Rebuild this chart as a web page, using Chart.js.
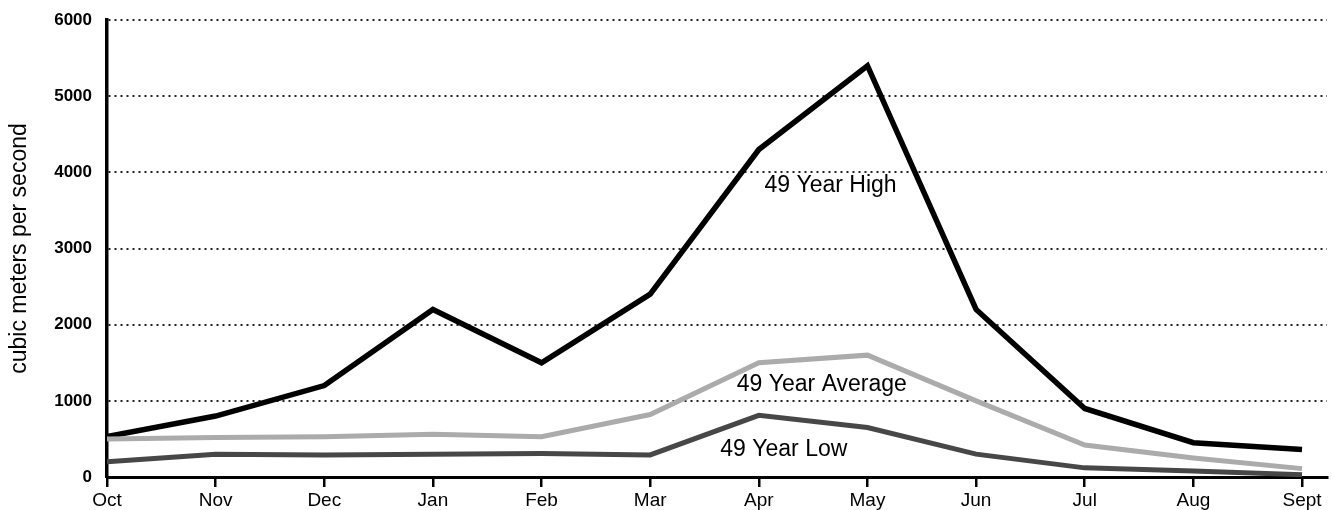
<!DOCTYPE html>
<html>
<head>
<meta charset="utf-8">
<script src="https://cdn.jsdelivr.net/npm/chart.js@4.4.1/dist/chart.umd.min.js"></script>
<style>
  html, body { margin: 0; padding: 0; background: #fff; }
  #wrap { width: 1334px; height: 510px; }
</style>
</head>
<body>
<div id="wrap"><canvas id="flowChart"></canvas></div>
<script>
const months = ['Oct', 'Nov', 'Dec', 'Jan', 'Feb', 'Mar', 'Apr', 'May', 'Jun', 'Jul', 'Aug', 'Sept'];
const highFlow = [530, 800, 1200, 2200, 1500, 2400, 4300, 5400, 2200, 900, 450, 360];
const avgFlow = [500, 520, 530, 560, 530, 820, 1500, 1600, 1000, 420, 250, 110];
const lowFlow = [200, 300, 290, 300, 310, 290, 810, 650, 300, 120, 80, 30];
const yTicks = [0, 1000, 2000, 3000, 4000, 5000, 6000];

// text labels sit at data positions: [text, x index, y value]
const seriesLabels = [
    ['49 Year High', 6.66, 3830],
    ['49 Year Average', 6.58, 1210],
    ['49 Year Low', 6.23, 355]
];

const toPoints = arr => arr.map((v, i) => ({ x: i, y: v }));
const font = 'Liberation Sans, Arial, sans-serif';

const labelPlugin = {
    id: 'seriesLabels',
    afterDatasetsDraw(chart) {
        const { ctx, scales } = chart;
        ctx.save();
        ctx.font = '23px ' + font;
        ctx.fillStyle = '#000';
        ctx.textAlign = 'center';
        ctx.textBaseline = 'middle';
        seriesLabels.forEach(([text, xi, yv]) => {
            ctx.fillText(text, scales.x.getPixelForValue(xi), scales.y.getPixelForValue(yv));
        });
        ctx.restore();
    }
};

const ctx = document.getElementById('flowChart').getContext('2d');
new Chart(ctx, {
    type: 'line',
    data: {
        datasets: [
            { label: '49 Year Average', data: toPoints(avgFlow), borderColor: '#ababab', borderWidth: 5 },
            { label: '49 Year Low', data: toPoints(lowFlow), borderColor: '#474747', borderWidth: 5 },
            { label: '49 Year High', data: toPoints(highFlow), borderColor: '#000', borderWidth: 5.5 }
        ]
    },
    options: {
        responsive: true,
        maintainAspectRatio: false,
        animation: false,
        elements: { point: { radius: 0 }, line: { tension: 0, borderJoinStyle: 'miter' } },
        layout: { padding: { top: 20, right: 7, left: 0, bottom: 0 } },
        plugins: { legend: { display: false }, tooltip: { enabled: false } },
        scales: {
            x: {
                type: 'linear',
                min: 0,
                max: 11.23,
                afterBuildTicks: scale => {
                    scale.ticks = months.map((m, i) => ({ value: i }));
                },
                afterFit: scale => { scale.height = 33; },
                border: { color: '#000', width: 3 },
                grid: { drawOnChartArea: false, drawTicks: true, tickLength: 10, color: '#000', lineWidth: 2.5 },
                ticks: {
                    autoSkip: false,
                    maxRotation: 0,
                    padding: 2,
                    color: '#000',
                    font: { family: font, size: 19 },
                    callback: v => months[v]
                }
            },
            y: {
                min: 0,
                max: 6000,
                afterBuildTicks: scale => {
                    scale.ticks = yTicks.map(v => ({ value: v }));
                },
                afterFit: scale => {
                    scale.width = 107;
                    scale.paddingTop = 0;
                    scale.paddingBottom = 0;
                },
                border: { color: '#000', width: 3.5, dash: [2, 4] },
                grid: { color: '#222', lineWidth: 2, drawTicks: false },
                ticks: {
                    padding: 15,
                    color: '#000',
                    font: { family: font, size: 17, weight: 'bold' },
                    callback: v => String(v)
                },
                title: {
                    display: true,
                    text: 'cubic meters per second',
                    color: '#000',
                    padding: { top: 6, bottom: 0 },
                    font: { family: font, size: 23 }
                }
            }
        }
    },
    plugins: [labelPlugin]
});
</script>
</body>
</html>
